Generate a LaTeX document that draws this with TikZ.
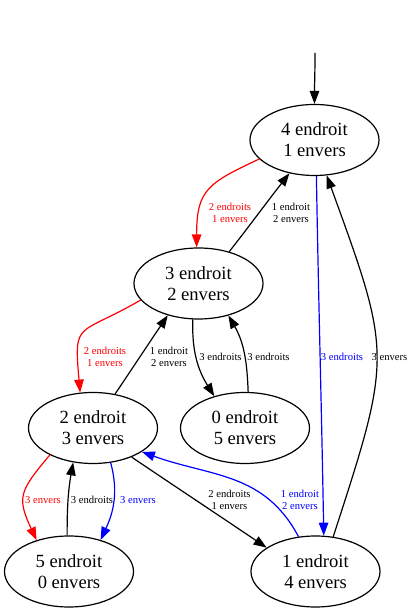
\documentclass[tikz,border=0pt]{standalone}
\usepackage{fontspec}
\setmainfont{Liberation Serif}
\usetikzlibrary{shapes.geometric,arrows.meta}

\begin{document}
\begin{tikzpicture}
[x=1bp,y=1bp,
  statenode/.style={shape=ellipse,draw,line width=1.2bp,minimum width=129bp,
    minimum height=71bp,inner sep=0pt,align=center,
    font=\fontsize{18.67}{21}\selectfont},
  labelnode/.style={inner sep=0pt,align=center,font=\fontsize{10.67}{12.5}\selectfont},
  linedecorate/.style={line width=1.2bp,-{Triangle[length=13bp,width=9.5bp]}}]
\useasboundingbox (0,0) rectangle (413,613);
%% states
\foreach \nodename/\x/\y/\endroit/\envers in {
  q4/314.5/473/4/1, q3/198.5/329.5/3/2,
  q2/93/185/2/3, q0/245/185/0/5,
  q5/69/41.5/5/0, q1/315.5/41.5/1/4}
{
  \node (\nodename) at (\x,\y) [statenode] {\endroit{} endroit\\\envers{} envers};
}
\coordinate (start) at (315,560);
%% transitions
\foreach \startnode/\endnode/\colour/\outangle/\inangle/\loose in {
  start/q4.90/black/270/90/1,
  q4.199/q3.93/red/205/90/1.35, q3.46/q4.233/black/52/232/1,
  q3.196/q2.110/red/210/95/1.7, q2.57/q3.226/black/56/236/1,
  q3.261/q0.134/black/268/122/1, q0.85/q3.313/black/92/300/1,
  q4.273/q1.77/blue/271/91/1, q1.63/q4.289/black/72/290/1.35,
  q2.212/q5.136/red/230/115/1.4, q5.93/q2.240/black/90/260/1,
  q2.297/q5.45/blue/285/65/1, q2.323/q1.154/black/326/146/1,
  q1.116/q2.334/blue/118/340/1.05}
{
  \draw[linedecorate,draw=\colour] (\startnode)
    to[out=\outangle,in=\inangle,looseness=\loose] (\endnode);
}
%% labels of the transitions
\foreach \labelname/\x/\y/\colour/\labeltext in {
  l43/230/400/red/{2 endroits\\1 envers}, l34/291/400/black/{1 endroit\\2 envers},
  l32/105/256/red/{2 endroits\\1 envers}, l23/169/256/black/{1 endroit\\2 envers},
  l30/220.5/256/black/{3 endroits}, l03/268.5/256/black/{3 endroits},
  l41/342/256/blue/{3 endroits}, l14/389.5/256/black/{3 envers},
  l25r/43/113/red/{3 envers}, l52/92/113/black/{3 endroits},
  l25b/138/113/blue/{3 envers}, l21/229.5/113/black/{2 endroits\\1 envers},
  l12/300/113/blue/{1 endroit\\2 envers}}
{
  \node (\labelname) at (\x,\y) [labelnode,text=\colour] {\labeltext};
}
\end{tikzpicture}
\end{document}
